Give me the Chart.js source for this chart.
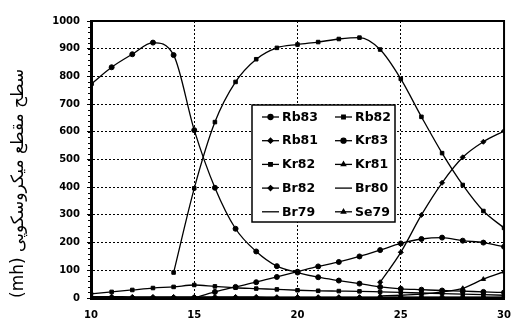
<!DOCTYPE html>
<html>
<head>
<meta charset="utf-8">
<script src="https://cdn.jsdelivr.net/npm/chart.js@4.4.0/dist/chart.umd.min.js"></script>
<style>
    html, body { margin: 0; padding: 0; background: #fff; }
    #contenedor { width: 522px; height: 327px; position: relative; }
</style>
</head>
<body>
<div id="contenedor"><canvas id="grafico"></canvas></div>
<script>
// energia (eje x)
const energias = [10, 11, 12, 13, 14, 15, 16, 17, 18, 19, 20, 21, 22, 23, 24, 25, 26, 27, 28, 29, 30];

// secciones eficaces (mb), null = sin dato
const rb83 = [772, 833, 880, 922, 877, 606, 398, 250, 168, 115, 92, 75, 63, 52, 40, 33, 30, 27, 25, 22, 20];
const rb82 = [null, null, null, null, 92, 396, 635, 780, 862, 903, 915, 924, 935, 940, 897, 791, 654, 523, 408, 314, 253];
const rb81 = [null, null, null, null, null, null, null, null, null, null, null, null, null, null, 57, 165, 300, 416, 508, 564, 603];
const kr83 = [null, null, null, null, null, 0, 22, 40, 57, 76, 95, 114, 130, 150, 173, 197, 213, 218, 207, 200, 185];
const kr82 = [15, 22, 29, 36, 40, 47, 42, 37, 34, 31, 28, 26, 25, 24, 22, 20, 18, 16, 14, 12, 10];
const kr81 = [null, null, null, null, null, null, null, null, null, null, null, null, null, null, 8, 10, 14, 22, 35, 68, 95];
const br82 = [5, 5, 4, 4, 4, 4, 4, 4, 4, 3, 3, 3, 3, 3, 3, 3, 3, 3, 3, 3, 3];
const br80 = [2, 2, 2, 2, 2, 2, 2, 2, 2, 2, 2, 2, 2, 2, 2, 2, 2, 2, 2, 2, 2];
const br79 = [1, 1, 1, 1, 1, 1, 1, 1, 1, 1, 1, 1, 1, 1, 1, 1, 1, 1, 1, 1, 1];
const se79 = [0, 0, 0, 0, 0, 0, 0, 0, 0, 0, 0, 0, 0, 0, 0, 0, 0, 0, 0, 0, 0];

const nombres = ['Rb83', 'Rb82', 'Rb81', 'Kr83', 'Kr82', 'Kr81', 'Br82', 'Br80', 'Br79', 'Se79'];
const series = [rb83, rb82, rb81, kr83, kr82, kr81, br82, br80, br79, se79];
const marcadores = ['circle', 'rect', 'rectRot', 'circle', 'rect', 'triangle', 'rectRot', false, false, 'triangle'];

const ejeY = 'سطح مقطع میکروسکوپی';

function puntos(valores) {
    let data = [];
    valores.forEach((v, i) => {
        if (v !== null) data.push({ x: energias[i], y: v });
    });
    return data;
}

// leyenda dibujada dentro del area del grafico
const leyendaInterna = {
    id: 'leyendaInterna',
    afterDatasetsDraw(chart) {
        const ctx = chart.ctx;
        const a = chart.chartArea;
        const bx = a.left + 161, by = a.top + 84, bw = 143, bh = 117;
        ctx.save();
        ctx.fillStyle = '#fff';
        ctx.fillRect(bx, by, bw, bh);
        ctx.strokeStyle = '#000';
        ctx.lineWidth = 1.5;
        ctx.strokeRect(bx, by, bw, bh);
        ctx.font = 'bold 12.5px "DejaVu Sans"';
        ctx.textBaseline = 'middle';
        ctx.fillStyle = '#000';
        chart.data.datasets.forEach((ds, i) => {
            const col = i % 2, fila = Math.floor(i / 2);
            const x0 = bx + 10 + col * 73;
            const y0 = by + 12 + fila * 23.7;
            ctx.lineWidth = 1.3;
            ctx.beginPath();
            ctx.moveTo(x0, y0);
            ctx.lineTo(x0 + 17, y0);
            ctx.stroke();
            if (ds.pointStyle && Chart.helpers && Chart.helpers.drawPoint) {
                Chart.helpers.drawPoint(ctx, { pointStyle: ds.pointStyle, radius: 2.5, rotation: 0, borderWidth: 1 }, x0 + 8.5, y0);
            }
            ctx.fillText(ds.label, x0 + 20, y0 + 0.5);
        });
        ctx.restore();
    }
};

// marco superior/derecho y marcas menores del eje y
const marco = {
    id: 'marco',
    afterDraw(chart) {
        const ctx = chart.ctx;
        const a = chart.chartArea;
        const y = chart.scales.y;
        ctx.save();
        ctx.strokeStyle = '#000';
        ctx.lineWidth = 2;
        ctx.beginPath();
        ctx.moveTo(a.left, a.top);
        ctx.lineTo(a.right, a.top);
        ctx.lineTo(a.right, a.bottom);
        ctx.stroke();
        ctx.lineWidth = 1;
        for (let v = 0; v <= 1000; v += 20) {
            const py = Math.round(y.getPixelForValue(v)) + 0.5;
            ctx.beginPath();
            ctx.moveTo(a.left - 3, py);
            ctx.lineTo(a.left + 2, py);
            ctx.stroke();
        }
        ctx.restore();
    }
};

const ctx = document.getElementById('grafico');

new Chart(ctx, {
    type: 'line',
    data: {
        datasets: series.map((s, i) => ({
            label: nombres[i],
            data: puntos(s),
            borderColor: '#000',
            backgroundColor: '#000',
            borderWidth: 1.3,
            pointStyle: marcadores[i],
            pointRadius: marcadores[i] ? 2.5 : 0,
            pointBorderWidth: 1,
            cubicInterpolationMode: 'monotone',
            fill: false
        }))
    },
    options: {
        responsive: true,
        maintainAspectRatio: false,
        animation: false,
        devicePixelRatio: 1,
        layout: { padding: { top: 21, right: 8, left: 0, bottom: 0 } },
        plugins: {
            legend: { display: false },
            tooltip: { enabled: false }
        },
        scales: {
            x: {
                type: 'linear',
                min: 10,
                max: 30,
                ticks: {
                    stepSize: 5,
                    color: '#000',
                    padding: 11,
                    font: { family: 'DejaVu Sans', size: 10, weight: 'bold' }
                },
                grid: {
                    color: c => (c.tick && (c.tick.value === 10 || c.tick.value === 30)) ? 'transparent' : '#000',
                    lineWidth: 1,
                    drawTicks: false
                },
                border: { display: true, color: '#000', width: 3, dash: [2, 2] },
                afterFit: s => { s.height = 29; }
            },
            y: {
                min: 0,
                max: 1000,
                ticks: {
                    stepSize: 100,
                    color: '#000',
                    padding: 7,
                    callback: v => String(v),
                    font: { family: 'DejaVu Sans', size: 10, weight: 'bold' }
                },
                grid: {
                    color: c => (c.tick && (c.tick.value === 0 || c.tick.value === 1000)) ? 'transparent' : '#000',
                    lineWidth: 1,
                    tickLength: 4,
                    tickColor: '#000'
                },
                border: { display: true, color: '#000', width: 3, dash: [2, 2] },
                title: {
                    display: true,
                    text: '(mh) ' + ejeY,
                    align: 'start',
                    color: '#000',
                    padding: { top: 8, bottom: 0 },
                    font: { family: 'DejaVu Sans', size: 17 }
                },
                afterFit: s => { s.width = 91; }
            }
        }
    },
    plugins: [leyendaInterna, marco]
});
</script>
</body>
</html>
